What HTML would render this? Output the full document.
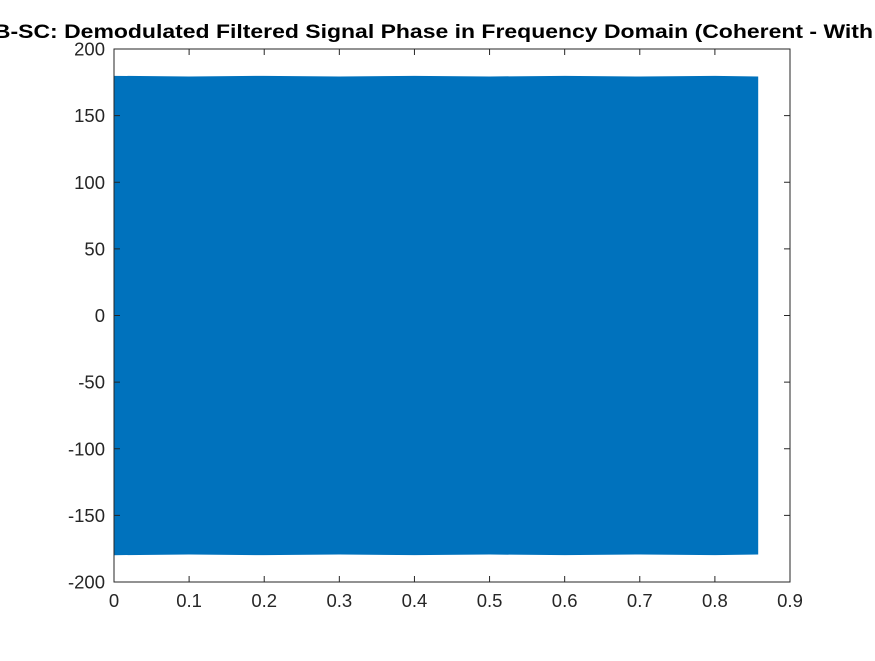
<!DOCTYPE html>
<html><head><meta charset="utf-8"><style>
body{margin:0;background:#fff;overflow:hidden;}
svg text{font-family:"Liberation Sans",sans-serif;}
</style></head><body>
<svg id="chart" width="875" height="656" xmlns="http://www.w3.org/2000/svg">
<rect x="0" y="0" width="875" height="656" fill="#fff"/>
<text x="-38" y="38" textLength="911" lengthAdjust="spacingAndGlyphs" font-size="19" font-weight="bold" fill="#000">DSB-SC: Demodulated Filtered Signal Phase in Frequency Domain (Coherent - With</text>
<g id="plot"></g>
</svg>
<script>
const xTicks=[0,0.1,0.2,0.3,0.4,0.5,0.6,0.7,0.8,0.9];
const yTicks=[-200,-150,-100,-50,0,50,100,150,200];
const sampleX=[0,0.1,0.2,0.3,0.4,0.5,0.6,0.7,0.8,0.857];
const upperPhase=[179.5,179,179.5,179,179.5,179,179.5,179,179.5,179];
const lowerPhase=[-179.5,-179,-179.5,-179,-179.5,-179,-179.5,-179,-179.5,-179];
const L=114,R=790,T=49,B=582;
const xs=v=>L+(v-0)/(0.9-0)*(R-L);
const ys=v=>B-(v+200)/400*(B-T);
const g=document.getElementById('plot');
const NS='http://www.w3.org/2000/svg';
function mk(t,a){const e=document.createElementNS(NS,t);for(const k in a)e.setAttribute(k,a[k]);g.appendChild(e);return e;}
let pts=sampleX.map((x,i)=>xs(x)+','+ys(upperPhase[i]));
for(let i=sampleX.length-1;i>=0;i--)pts.push(xs(sampleX[i])+','+ys(lowerPhase[i]));
const band=mk('polygon',{points:pts.join(' '),fill:'#0072bd',stroke:'#0072bd','stroke-width':1});


const box=mk('rect',{x:L,y:T,width:R-L,height:B-T,fill:'none',stroke:'#262626','stroke-width':1});


xTicks.forEach(v=>{
 const x=xs(v);
 mk('line',{x1:x,y1:B,x2:x,y2:B-6,stroke:'#262626'});
 mk('line',{x1:x,y1:T,x2:x,y2:T+6,stroke:'#262626'});
 const t=mk('text',{x:x,y:B+25,'text-anchor':'middle','font-size':18.5,fill:'#262626'});
 t.textContent=String(v);
 
 
});
yTicks.forEach(v=>{
 const y=ys(v);
 mk('line',{x1:L,y1:y,x2:L+6,y2:y,stroke:'#262626'});
 mk('line',{x1:R,y1:y,x2:R-6,y2:y,stroke:'#262626'});
 const t=mk('text',{x:L-9,y:y+6.5,'text-anchor':'end','font-size':18.5,fill:'#262626'});
 t.textContent=String(v);
 
 
});
</script>
</body></html>
